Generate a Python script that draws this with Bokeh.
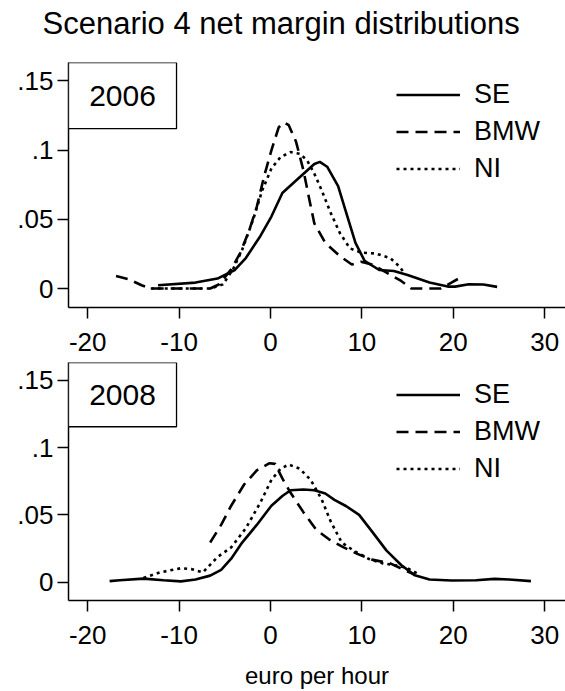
from bokeh.plotting import figure
from bokeh.layouts import column
from bokeh.models import Range1d, FixedTicker, Label, BoxAnnotation, Legend, LegendItem, Title
from bokeh.embed import file_html
from bokeh.resources import INLINE

FONT = "Liberation Sans"

title_text = "Scenario 4 net margin distributions"
x_axis_title = "euro per hour"
series_names = ["SE", "BMW", "NI"]
x_ticks = [-20, -10, 0, 10, 20, 30]
x_tick_labels = ["-20", "-10", "0", "10", "20", "30"]
y_ticks = [0, 0.05, 0.1, 0.15]
y_tick_labels = ["0", ".05", ".1", ".15"]

# ---- 2006 ----
se06_x = [-12.3, -8.2, -5.8, -3.9, -2.7, -1.1, 0.1, 1.3, 2.8, 3.8, 4.8, 5.4, 6.2, 7.4, 8.3, 9.3,
          10.3, 11.9, 13.5, 15.0, 17.4, 19.4, 20.2, 21.7, 23.3, 24.8]
se06_y = [0.0024, 0.0043, 0.0072, 0.0134, 0.022, 0.038, 0.052, 0.069, 0.078, 0.084, 0.090, 0.0915,
          0.088, 0.074, 0.0545, 0.033, 0.020, 0.0134, 0.0127, 0.0098, 0.0043, 0.0014, 0.0014,
          0.0031, 0.0029, 0.0012]
bmw06_x = [-16.9, -15.5, -14.1, -13.1, -6.6, -5.6, -4.3, -3.3, -2.3, -1.5, -0.7, 0.1, 0.9, 1.5,
           2.0, 2.8, 3.6, 4.2, 4.8, 6.0, 7.6, 8.9, 9.9, 11.1, 12.7, 14.3, 15.4, 18.6, 19.8, 21.1]
bmw06_y = [0.0091, 0.0067, 0.0024, 0.0, 0.0, 0.0031, 0.0139, 0.0258, 0.0425, 0.059, 0.081,
           0.0998, 0.1165, 0.120, 0.118, 0.106, 0.0855, 0.066, 0.047, 0.033, 0.0234, 0.0174,
           0.0193, 0.0174, 0.0115, 0.0055, 0.0, 0.0, 0.0043, 0.0091]
ni06_x = [-13.1, -6.6, -5.2, -4.1, -3.1, -1.9, -0.9, 0.1, 1.1, 2.2, 3.2, 4.0, 4.8, 5.6, 6.6, 7.6,
          8.7, 9.9, 11.5, 13.1, 14.1, 14.6]
ni06_y = [0.0, 0.0, 0.003, 0.0139, 0.028, 0.0497, 0.071, 0.0867, 0.095, 0.0986, 0.0974, 0.0927,
          0.083, 0.071, 0.0545, 0.040, 0.029, 0.026, 0.0253, 0.022, 0.016, 0.0115]

# ---- 2008 ----
se08_x = [-17.6, -16.5, -13.9, -11.7, -9.8, -8.2, -6.6, -5.4, -4.3, -3.1, -1.5, 0.1, 1.3, 2.2,
          3.6, 4.8, 6.0, 7.0, 8.3, 9.7, 11.1, 12.7, 14.3, 15.8, 17.4, 19.8, 22.5, 24.5, 26.1, 28.5]
se08_y = [0.0007, 0.0014, 0.0026, 0.0014, 0.0005, 0.0019, 0.0048, 0.0091, 0.0174, 0.0294, 0.0425,
          0.0568, 0.064, 0.0683, 0.0688, 0.0683, 0.0659, 0.0611, 0.0564, 0.050, 0.0377, 0.0234,
          0.0127, 0.005, 0.0019, 0.0012, 0.0014, 0.0024, 0.0019, 0.0007]
bmw08_x = [-6.6, -5.4, -4.3, -2.9, -1.5, -0.1, 0.5, 1.3, 2.2, 3.6, 5.0, 6.4, 8.0, 9.5, 11.1, 13.1,
           15.0, 15.8]
bmw08_y = [0.0294, 0.0425, 0.0568, 0.0724, 0.0831, 0.0884, 0.0879, 0.0771, 0.0664, 0.052, 0.039,
           0.0318, 0.0258, 0.021, 0.0167, 0.0139, 0.0079, 0.0055]
ni08_x = [-13.9, -12.1, -9.8, -8.6, -7.4, -5.8, -4.3, -2.7, -1.1, 0.1, 1.1, 2.0, 3.2, 4.4, 5.6,
          6.6, 7.8, 9.1, 10.7, 12.3, 13.9, 15.0, 16.0]
ni08_y = [0.0031, 0.0072, 0.0103, 0.0096, 0.0072, 0.0186, 0.0258, 0.040, 0.0592, 0.076, 0.0843,
          0.0874, 0.0843, 0.076, 0.0616, 0.0449, 0.0294, 0.0234, 0.0174, 0.0139, 0.0122, 0.0103,
          0.0067]

X_START, X_END = -22.1, 32.28
Y_START, Y_END = -0.0137, 0.1633
BOX_RIGHT, BOX_BOTTOM = -10.28, 0.1155
DASHES = ["solid", "12 7", "3 4"]
TITLE_H = 44


def make_title():
    t = figure(width=565, height=TITLE_H, output_backend="svg", toolbar_location=None,
               x_range=Range1d(X_START, X_END), y_range=Range1d(0, 1),
               x_axis_type=None, y_axis_type=None, min_border_left=68, min_border_right=0,
               min_border_top=0, min_border_bottom=0)
    t.outline_line_color = None
    t.xgrid.visible = False
    t.ygrid.visible = False
    t.background_fill_color = "white"
    t.border_fill_color = "white"
    t.title = Title(text=title_text, align="left", offset=-26, standoff=6,
                    text_font=FONT, text_font_size="31px", text_font_style="normal",
                    text_color="black")
    return t


def make_panel(year, series, height, top_border, bottom_border, with_xlabel):
    p = figure(width=565, height=height, output_backend="svg", toolbar_location=None,
               x_range=Range1d(X_START, X_END), y_range=Range1d(Y_START, Y_END),
               min_border_left=68, min_border_right=0, min_border_top=top_border,
               min_border_bottom=bottom_border)
    p.outline_line_color = None
    p.xgrid.visible = False
    p.ygrid.visible = False
    p.background_fill_color = "white"
    p.border_fill_color = "white"

    for ax in (p.xaxis[0], p.yaxis[0]):
        ax.axis_line_color = "black"
        ax.axis_line_width = 1.5
        ax.major_tick_line_color = "black"
        ax.major_tick_line_width = 1.5
        ax.major_tick_in = 0
        ax.major_tick_out = 11
        ax.minor_tick_line_color = None
        ax.major_label_text_font = FONT
        ax.major_label_text_font_size = "26px"
        ax.major_label_text_color = "black"

    p.xaxis.ticker = FixedTicker(ticks=x_ticks)
    p.xaxis.major_label_overrides = {t: s for t, s in zip(x_ticks, x_tick_labels)}
    p.xaxis.major_label_standoff = 14
    p.yaxis.ticker = FixedTicker(ticks=y_ticks)
    p.yaxis.major_label_overrides = {t: s for t, s in zip(y_ticks, y_tick_labels)}
    p.yaxis.major_label_standoff = 4
    if with_xlabel:
        p.xaxis.axis_label = x_axis_title
        p.xaxis.axis_label_text_font = FONT
        p.xaxis.axis_label_text_font_size = "24px"
        p.xaxis.axis_label_text_font_style = "normal"
        p.xaxis.axis_label_text_color = "black"
        p.xaxis.axis_label_standoff = 15

    items = []
    for name, (xs, ys), dash in zip(series_names, series, DASHES):
        r = p.line(xs, ys, line_color="black", line_width=2.6, line_dash=dash)
        items.append(LegendItem(label=name, renderers=[r]))

    legend = Legend(items=items, location="top_right", margin=14, padding=13, spacing=0,
                    glyph_width=64, glyph_height=37, label_height=37, label_width=77,
                    label_standoff=14, label_text_font=FONT, label_text_font_size="27px",
                    label_text_color="black", border_line_color=None,
                    background_fill_alpha=0.0)
    p.add_layout(legend)

    box = BoxAnnotation(left=X_START, right=BOX_RIGHT, top=Y_END, bottom=BOX_BOTTOM,
                        fill_color="white", fill_alpha=1.0, line_color="black",
                        line_alpha=1.0, line_width=1.3)
    p.add_layout(box)
    lab = Label(x=(X_START + BOX_RIGHT) / 2, y=(Y_END + BOX_BOTTOM) / 2, text=year,
                text_align="center", text_baseline="middle", text_font=FONT,
                text_font_size="30px", text_color="black")
    p.add_layout(lab)
    return p


p0 = make_title()
p1 = make_panel("2006", [(se06_x, se06_y), (bmw06_x, bmw06_y), (ni06_x, ni06_y)],
                362 - TITLE_H, 62 - TITLE_H, 55, False)
p2 = make_panel("2008", [(se08_x, se08_y), (bmw08_x, bmw08_y), (ni08_x, ni08_y)],
                329, 0, 84, True)

layout = column(p0, p1, p2, spacing=0)
open("out.html", "w").write(file_html(layout, INLINE))
